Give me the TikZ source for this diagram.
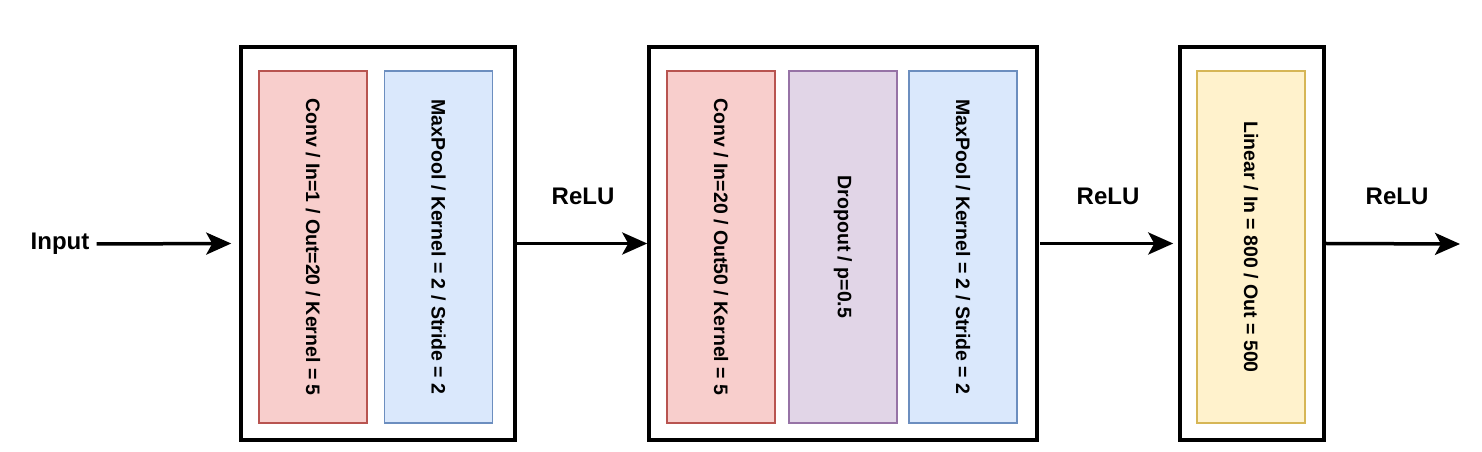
\documentclass[tikz,border=0pt]{standalone}
\usepackage{fontspec}
\setmainfont{Liberation Sans}
\usetikzlibrary{arrows.meta}
\definecolor{convfill}{HTML}{F8CECC}
\definecolor{convline}{HTML}{B85450}
\definecolor{poolfill}{HTML}{DAE8FC}
\definecolor{poolline}{HTML}{6C8EBF}
\definecolor{dropfill}{HTML}{E1D5E7}
\definecolor{dropline}{HTML}{9673A6}
\definecolor{linfill}{HTML}{FFF2CC}
\definecolor{linline}{HTML}{D6B656}
\tikzset{
  block/.style={draw, line width=3.5pt, minimum height=393pt, inner sep=0pt},
  layer/.style={draw=#1line, fill=#1fill, line width=1.3pt, rotate=-90,
    minimum width=352pt, minimum height=108pt, inner sep=0pt,
    font=\bfseries\fontsize{19.5}{23}\selectfont},
  lbl/.style={font=\bfseries\fontsize{24}{28}\selectfont, inner sep=0pt},
  flow/.style={line width=3.5pt, -{Stealth[length=25pt, width=22pt, inset=6pt]}}
}
\begin{document}
\begin{tikzpicture}[x=1pt, y=1pt]
      \useasboundingbox (0,0) rectangle (1482,452);
      \draw
        (378,208.5) node[block, minimum width=274pt] (b1){}
        (843,208.5) node[block, minimum width=388pt] (b2){}
        (1252,208.5) node[block, minimum width=144pt] (b3){};
      \draw
        (313,205) node[layer=conv] (c1){Conv / In=1 / Out=20 / Kernel = 5}
        (438.5,205) node[layer=pool] (p1){MaxPool / Kernel = 2 / Stride = 2}
        (721,205) node[layer=conv] (c2){Conv / In=20 / Out50 / Kernel = 5}
        (843,205) node[layer=drop] (d2){Dropout / p=0.5}
        (963,205) node[layer=pool] (p2){MaxPool / Kernel = 2 / Stride = 2}
        (1251,205) node[layer=lin] (l3){Linear / In = 800 / Out = 500};
      \draw
        (60,208) node[lbl] (in){Input}
        (583,256) node[lbl] (r1){ReLU}
        (1108,256) node[lbl] (r2){ReLU}
        (1397,256) node[lbl] (r3){ReLU}
        (1460,208) coordinate (out);
      \begin{scope}[flow]
        \draw ([xshift=7pt]in.east) to ([xshift=-8pt]b1.west);
        \draw (b1.east) to (b2.west);
        \draw ([xshift=1pt]b2.east) to ([xshift=-5pt]b3.west);
        \draw (b3.east) to (out);
      \end{scope}
    \end{tikzpicture}
\end{document}
